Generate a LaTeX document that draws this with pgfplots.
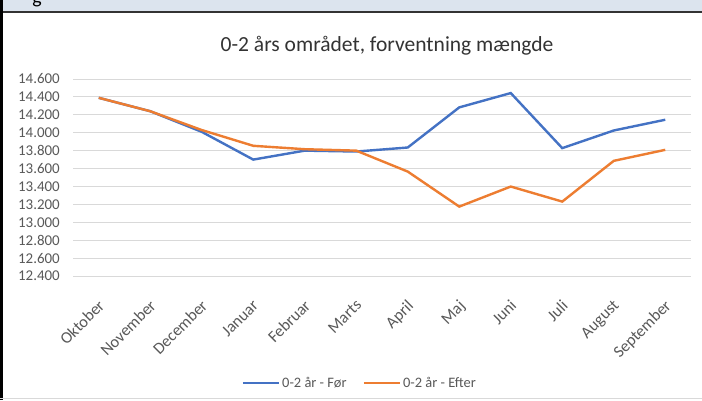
\documentclass[border=0pt]{standalone}
\usepackage{fontspec}
\setmainfont{Carlito}
\usepackage{pgfplots}
\pgfplotsset{compat=1.18}
\definecolor{blueline}{HTML}{4472C4}
\definecolor{orangeline}{HTML}{ED7D31}
\definecolor{gridc}{HTML}{D9D9D9}
\definecolor{txt}{HTML}{595959}
\definecolor{barc}{HTML}{DCE4EE}
\begin{document}
\begin{tikzpicture}[x=1bp,y=1bp]
\useasboundingbox (0,0) rectangle (702,400);
\fill[white] (0,0) rectangle (702,400);
\fill[barc] (0,388.5) rectangle (702,400);
\begin{scope}
\clip (0,388.5) rectangle (702,400);
\node[anchor=base, font=\fontsize{20}{24}\selectfont, inner sep=0pt] at (37,396) {g};
\end{scope}
\draw[black!80, line width=1.5bp] (0,388) -- (702,388);
\draw[black, line width=2.5bp] (1.25,0) -- (1.25,400);
\draw[gridc, line width=0.8bp] (0,1.5) -- (702,1.5);
\node[anchor=base, font=\fontsize{21.6}{26}\selectfont, text=black!80, inner sep=0pt] at (387,349) {0-2 års området, forventning mængde};
\begin{axis}[
  at={(73bp,124bp)}, anchor=south west,
  scale only axis, width=618bp, height=197bp,
  xmin=-0.5, xmax=11.5, ymin=12400, ymax=14600,
  ytick distance=200,
  scaled y ticks=false,
  xtick={0,1,2,3,4,5,6,7,8,9,10,11},
  xticklabels={Oktober,November,December,Januar,Februar,Marts,April,Maj,Juni,Juli,August,September},
  xticklabel style={rotate=45, anchor=north east, inner sep=0pt, xshift=-17bp, yshift=-15bp, font=\fontsize{16.5}{19}\selectfont, text=txt},
  yticklabel style={anchor=east, inner sep=0pt, xshift=-13bp, font=\fontsize{15}{18}\selectfont, text=txt,
    /pgf/number format/.cd, fixed, 1000 sep={.}, assume math mode=true},
  ymajorgrids, grid style={gridc, line width=0.9bp},
  axis line style={draw=none},
  major tick length=0pt,
  legend columns=2,
  legend style={at={(0.464,-0.543)}, anchor=center, draw=none, fill=none,
    font=\fontsize{14.5}{17}\selectfont, text=txt,
    /tikz/every even column/.append style={column sep=14bp}},
  legend image code/.code={\draw[#1, line width=2.6bp] (0bp,0bp) -- (36bp,0bp);},
]
\addplot[blueline, line width=2.4bp] coordinates {
(0,14390) (1,14240) (2,14010) (3,13700) (4,13800) (5,13790) (6,13835) (7,14283) (8,14443) (9,13828) (10,14025) (11,14145)};
\addlegendentry{0-2 år - Før}
\addplot[orangeline, line width=2.4bp] coordinates {
(0,14390) (1,14240) (2,14030) (3,13854) (4,13816) (5,13800) (6,13566) (7,13175) (8,13399) (9,13231) (10,13686) (11,13809)};
\addlegendentry{0-2 år - Efter}
\end{axis}
\end{tikzpicture}
\end{document}
